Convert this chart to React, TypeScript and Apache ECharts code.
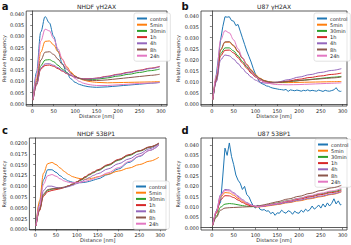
import React, { useEffect, useRef } from 'react';
import * as echarts from 'echarts';

const NAMES = ['control', '5min', '30min', '1h', '4h', '8h', '24h'];
const COLORS = ['#1f77b4', '#ff7f0e', '#2ca02c', '#d62728', '#9467bd', '#8c564b', '#e377c2'];

const X_TICKS = [0, 50, 100, 150, 200, 250, 300];
const Y_TICKS_040 = [0, 0.005, 0.01, 0.015, 0.02, 0.025, 0.03, 0.035, 0.04];
const Y_TICKS_020 = [0, 0.0025, 0.005, 0.0075, 0.01, 0.0125, 0.015, 0.0175, 0.02];

// distances for smooth curves
const X_S = [2, 10, 20, 30, 40, 50, 60, 70, 80, 90, 100, 110, 120, 130, 140, 150, 175, 200, 225, 250, 275, 297];
// distances for the noisy control curves
const X_F = [2, 5, 10, 15, 20, 25, 30, 35, 40, 45, 50, 55, 60, 65, 70, 75, 80, 85, 90, 95, 100, 105, 110, 115, 120, 125, 130, 135, 140, 145, 150, 155, 160, 165, 170, 175, 180, 185, 190, 195, 200, 205, 210, 215, 220, 225, 230, 235, 240, 245, 250, 255, 260, 265, 270, 275, 280, 285, 290, 295, 297];

// a: NHDF γH2AX
const A_control = [0.0020, 0.0140, 0.0320, 0.0388, 0.0360, 0.0300, 0.0235, 0.0180, 0.0140, 0.0112, 0.0096, 0.0087, 0.0081, 0.0077, 0.0075, 0.0074, 0.0076, 0.0080, 0.0084, 0.0088, 0.0092, 0.0096];
const A_5min = [0.0018, 0.0110, 0.0230, 0.0278, 0.0280, 0.0262, 0.0232, 0.0198, 0.0167, 0.0142, 0.0124, 0.0113, 0.0106, 0.0101, 0.0098, 0.0096, 0.0094, 0.0095, 0.0096, 0.0097, 0.0098, 0.0100];
const A_30min = [0.0018, 0.0090, 0.0170, 0.0195, 0.0197, 0.0188, 0.0172, 0.0155, 0.0140, 0.0128, 0.0119, 0.0113, 0.0110, 0.0109, 0.0109, 0.0110, 0.0116, 0.0124, 0.0132, 0.0140, 0.0148, 0.0155];
const A_1h = [0.0017, 0.0085, 0.0155, 0.0171, 0.0173, 0.0167, 0.0157, 0.0146, 0.0135, 0.0126, 0.0119, 0.0114, 0.0112, 0.0112, 0.0113, 0.0115, 0.0123, 0.0132, 0.0141, 0.0150, 0.0159, 0.0167];
const A_4h = [0.0017, 0.0088, 0.0160, 0.0178, 0.0179, 0.0172, 0.0161, 0.0149, 0.0137, 0.0127, 0.0119, 0.0114, 0.0111, 0.0111, 0.0112, 0.0114, 0.0121, 0.0130, 0.0139, 0.0148, 0.0157, 0.0165];
const A_8h = [0.0018, 0.0100, 0.0195, 0.0230, 0.0232, 0.0220, 0.0199, 0.0176, 0.0155, 0.0137, 0.0123, 0.0114, 0.0108, 0.0105, 0.0104, 0.0104, 0.0107, 0.0112, 0.0117, 0.0122, 0.0127, 0.0132];
const A_24h = [0.0019, 0.0125, 0.0280, 0.0332, 0.0325, 0.0290, 0.0245, 0.0200, 0.0162, 0.0133, 0.0113, 0.0100, 0.0092, 0.0087, 0.0084, 0.0082, 0.0082, 0.0085, 0.0088, 0.0091, 0.0093, 0.0095];

// b: U87 γH2AX
const B_control = [0.0020, 0.0060, 0.0130, 0.0210, 0.0290, 0.0350, 0.0395, 0.0393, 0.0395, 0.0378, 0.0375, 0.0355, 0.0360, 0.0330, 0.0300, 0.0270, 0.0240, 0.0215, 0.0190, 0.0160, 0.0135, 0.0115, 0.0098, 0.0092, 0.0088, 0.0082, 0.0080, 0.0075, 0.0072, 0.0070, 0.0068, 0.0066, 0.0065, 0.0063, 0.0066, 0.0057, 0.0064, 0.0062, 0.0060, 0.0063, 0.0061, 0.0058, 0.0062, 0.0060, 0.0064, 0.0059, 0.0062, 0.0060, 0.0058, 0.0063, 0.0060, 0.0057, 0.0062, 0.0059, 0.0058, 0.0061, 0.0064, 0.0074, 0.0060, 0.0057, 0.0058];
const B_5min = [0.0020, 0.0115, 0.0245, 0.0280, 0.0280, 0.0262, 0.0236, 0.0208, 0.0180, 0.0155, 0.0133, 0.0117, 0.0107, 0.0101, 0.0098, 0.0097, 0.0097, 0.0098, 0.0099, 0.0100, 0.0101, 0.0102];
const B_30min = [0.0020, 0.0110, 0.0228, 0.0254, 0.0254, 0.0240, 0.0218, 0.0193, 0.0168, 0.0146, 0.0127, 0.0113, 0.0104, 0.0099, 0.0097, 0.0097, 0.0101, 0.0106, 0.0111, 0.0116, 0.0121, 0.0125];
const B_1h = [0.0020, 0.0105, 0.0218, 0.0243, 0.0244, 0.0231, 0.0210, 0.0186, 0.0162, 0.0140, 0.0122, 0.0109, 0.0101, 0.0097, 0.0096, 0.0097, 0.0104, 0.0112, 0.0120, 0.0127, 0.0134, 0.0140];
const B_4h = [0.0020, 0.0100, 0.0200, 0.0222, 0.0218, 0.0203, 0.0183, 0.0161, 0.0140, 0.0122, 0.0108, 0.0099, 0.0095, 0.0094, 0.0096, 0.0099, 0.0110, 0.0122, 0.0133, 0.0143, 0.0152, 0.0160];
const B_8h = [0.0020, 0.0115, 0.0245, 0.0281, 0.0282, 0.0265, 0.0238, 0.0208, 0.0178, 0.0152, 0.0130, 0.0115, 0.0106, 0.0101, 0.0099, 0.0099, 0.0102, 0.0106, 0.0110, 0.0114, 0.0118, 0.0122];
const B_24h = [0.0020, 0.0130, 0.0290, 0.0332, 0.0322, 0.0290, 0.0250, 0.0210, 0.0175, 0.0147, 0.0125, 0.0110, 0.0100, 0.0094, 0.0090, 0.0088, 0.0087, 0.0088, 0.0090, 0.0092, 0.0094, 0.0096];

// c: NHDF 53BP1
const C_control = [0.0008, 0.0060, 0.0115, 0.0138, 0.0138, 0.0132, 0.0124, 0.0117, 0.0112, 0.0109, 0.0108, 0.0108, 0.0109, 0.0111, 0.0114, 0.0117, 0.0127, 0.0140, 0.0155, 0.0169, 0.0183, 0.0195];
const C_5min = [0.0008, 0.0065, 0.0130, 0.0152, 0.0155, 0.0150, 0.0142, 0.0134, 0.0127, 0.0122, 0.0119, 0.0117, 0.0116, 0.0117, 0.0119, 0.0122, 0.0128, 0.0135, 0.0142, 0.0150, 0.0158, 0.0167];
const C_30min = [0.0008, 0.0045, 0.0080, 0.0090, 0.0093, 0.0094, 0.0095, 0.0097, 0.0100, 0.0104, 0.0109, 0.0114, 0.0120, 0.0126, 0.0131, 0.0136, 0.0148, 0.0160, 0.0171, 0.0181, 0.0190, 0.0198];
const C_1h = [0.0008, 0.0043, 0.0077, 0.0087, 0.0090, 0.0092, 0.0094, 0.0097, 0.0101, 0.0105, 0.0110, 0.0116, 0.0122, 0.0128, 0.0133, 0.0138, 0.0150, 0.0162, 0.0173, 0.0182, 0.0191, 0.0199];
const C_4h = [0.0008, 0.0050, 0.0090, 0.0100, 0.0100, 0.0097, 0.0096, 0.0097, 0.0099, 0.0102, 0.0106, 0.0110, 0.0115, 0.0120, 0.0125, 0.0129, 0.0140, 0.0152, 0.0163, 0.0175, 0.0187, 0.0198];
const C_8h = [0.0008, 0.0045, 0.0082, 0.0092, 0.0094, 0.0095, 0.0096, 0.0098, 0.0101, 0.0105, 0.0110, 0.0115, 0.0121, 0.0127, 0.0132, 0.0137, 0.0149, 0.0161, 0.0172, 0.0182, 0.0191, 0.0200];
const C_24h = [0.0008, 0.0055, 0.0105, 0.0124, 0.0127, 0.0123, 0.0117, 0.0112, 0.0109, 0.0108, 0.0108, 0.0109, 0.0111, 0.0114, 0.0117, 0.0121, 0.0131, 0.0143, 0.0157, 0.0170, 0.0183, 0.0195];

// d: U87 53BP1
const D_control = [0.0015, 0.0040, 0.0080, 0.0105, 0.0125, 0.0250, 0.0385, 0.0350, 0.0410, 0.0345, 0.0305, 0.0255, 0.0230, 0.0215, 0.0185, 0.0200, 0.0160, 0.0150, 0.0125, 0.0105, 0.0095, 0.0110, 0.0090, 0.0085, 0.0088, 0.0080, 0.0082, 0.0068, 0.0075, 0.0060, 0.0072, 0.0070, 0.0085, 0.0075, 0.0070, 0.0082, 0.0078, 0.0065, 0.0080, 0.0072, 0.0070, 0.0085, 0.0075, 0.0090, 0.0080, 0.0088, 0.0105, 0.0090, 0.0098, 0.0110, 0.0095, 0.0115, 0.0100, 0.0120, 0.0105, 0.0118, 0.0140, 0.0115, 0.0130, 0.0110, 0.0112];
const D_5min = [0.0012, 0.0075, 0.0148, 0.0170, 0.0168, 0.0157, 0.0142, 0.0128, 0.0116, 0.0107, 0.0102, 0.0101, 0.0103, 0.0106, 0.0109, 0.0112, 0.0121, 0.0130, 0.0140, 0.0150, 0.0161, 0.0173];
const D_30min = [0.0012, 0.0055, 0.0100, 0.0114, 0.0117, 0.0115, 0.0111, 0.0107, 0.0104, 0.0102, 0.0102, 0.0104, 0.0108, 0.0112, 0.0116, 0.0120, 0.0131, 0.0142, 0.0153, 0.0164, 0.0174, 0.0185];
const D_1h = [0.0012, 0.0070, 0.0135, 0.0155, 0.0154, 0.0146, 0.0134, 0.0122, 0.0112, 0.0105, 0.0101, 0.0102, 0.0105, 0.0109, 0.0113, 0.0117, 0.0127, 0.0138, 0.0149, 0.0160, 0.0170, 0.0180];
const D_4h = [0.0012, 0.0080, 0.0160, 0.0185, 0.0183, 0.0170, 0.0153, 0.0136, 0.0122, 0.0111, 0.0104, 0.0103, 0.0105, 0.0108, 0.0111, 0.0114, 0.0123, 0.0133, 0.0143, 0.0153, 0.0163, 0.0175];
const D_8h = [0.0012, 0.0050, 0.0085, 0.0095, 0.0097, 0.0098, 0.0099, 0.0100, 0.0101, 0.0102, 0.0104, 0.0107, 0.0111, 0.0116, 0.0121, 0.0126, 0.0139, 0.0152, 0.0166, 0.0180, 0.0193, 0.0205];
const D_24h = [0.0012, 0.0078, 0.0155, 0.0180, 0.0178, 0.0165, 0.0148, 0.0132, 0.0119, 0.0109, 0.0103, 0.0103, 0.0106, 0.0110, 0.0114, 0.0118, 0.0130, 0.0142, 0.0155, 0.0167, 0.0178, 0.0190];

const TITLES = ['NHDF γH2AX', 'U87 γH2AX', 'NHDF 53BP1', 'U87 53BP1'];
const LETTERS = ['a', 'b', 'c', 'd'];

type Panel = {
  grid: { left: number; top: number; width: number; height: number };
  xRange: [number, number];
  yRange: [number, number];
  yTicks: number[];
  yDigits: number;
  nameGap: number;
  legend: { left: number; top: number };
  letter: [number, number];
  series: { x: number[]; y: number[]; smooth: boolean }[];
};

const PANELS: Panel[] = [
  {
    grid: { left: 26, top: 11, width: 141, height: 95 },
    xRange: [-14, 314], yRange: [-0.0009, 0.0413], yTicks: Y_TICKS_040, yDigits: 3, nameGap: 18,
    legend: { left: 134, top: 13 }, letter: [5, 6],
    series: [A_control, A_5min, A_30min, A_1h, A_4h, A_8h, A_24h].map((y) => ({ x: X_S, y, smooth: true })),
  },
  {
    grid: { left: 201, top: 11, width: 146, height: 95 },
    xRange: [-25, 310], yRange: [-0.0009, 0.0421], yTicks: Y_TICKS_040, yDigits: 3, nameGap: 18,
    legend: { left: 314, top: 13 }, letter: [185, 6],
    series: [
      { x: X_F, y: B_control, smooth: false },
      ...[B_5min, B_30min, B_1h, B_4h, B_8h, B_24h].map((y) => ({ x: X_S, y, smooth: true })),
    ],
  },
  {
    grid: { left: 26, top: 138, width: 140, height: 92 },
    xRange: [-14, 314], yRange: [-0.00016, 0.02116], yTicks: Y_TICKS_020, yDigits: 4, nameGap: 21,
    legend: { left: 133, top: 181 }, letter: [5, 130],
    series: [C_control, C_5min, C_30min, C_1h, C_4h, C_8h, C_24h].map((y) => ({ x: X_S, y, smooth: true })),
  },
  {
    grid: { left: 201, top: 138, width: 146, height: 92 },
    xRange: [-25, 310], yRange: [-0.0011, 0.0434], yTicks: Y_TICKS_040, yDigits: 3, nameGap: 18,
    legend: { left: 315, top: 139 }, letter: [185, 130],
    series: [
      { x: X_F, y: D_control, smooth: false },
      ...[D_5min, D_30min, D_1h, D_4h, D_8h, D_24h].map((y) => ({ x: X_S, y, smooth: true })),
    ],
  },
];

const FONT = 'DejaVu Sans, Liberation Sans, sans-serif';
const TXT = '#262626';

export default function App() {
  const ref = useRef<HTMLDivElement>(null);
  useEffect(() => {
    if (!ref.current) return;
    const chart = echarts.init(ref.current, undefined, { renderer: 'svg' });
    const grids: any[] = [];
    const xAxes: any[] = [];
    const yAxes: any[] = [];
    const series: any[] = [];
    const legends: any[] = [];
    const graphics: any[] = [];
    PANELS.forEach((p, pi) => {
      grids.push({ ...p.grid, show: true, borderColor: '#333', borderWidth: 0.8, backgroundColor: '#fff' });
      xAxes.push({
        type: 'value', gridIndex: pi, min: p.xRange[0], max: p.xRange[1],
        name: 'Distance [nm]', nameLocation: 'middle', nameGap: 7,
        nameTextStyle: { fontSize: 5, color: TXT, fontFamily: FONT },
        axisLine: { show: true, lineStyle: { color: '#333', width: 0.8 } },
        axisTick: { show: true, inside: false, length: 2, customValues: X_TICKS, lineStyle: { color: '#333', width: 0.6 } },
        axisLabel: { customValues: X_TICKS, fontSize: 5, color: TXT, margin: 2, fontFamily: FONT, formatter: (v: number) => String(Math.round(v)) },
        splitLine: { show: false },
      });
      yAxes.push({
        type: 'value', gridIndex: pi, min: p.yRange[0], max: p.yRange[1],
        name: 'Relative frequency', nameLocation: 'middle', nameGap: p.nameGap, nameRotate: 90,
        nameTextStyle: { fontSize: 5, color: TXT, fontFamily: FONT },
        axisLine: { show: true, lineStyle: { color: '#333', width: 0.8 } },
        axisTick: { show: true, inside: false, length: 2, customValues: p.yTicks, lineStyle: { color: '#333', width: 0.6 } },
        axisLabel: { customValues: p.yTicks, fontSize: 5, color: TXT, margin: 2, fontFamily: FONT, formatter: (v: number) => v.toFixed(p.yDigits) },
        splitLine: { show: false },
      });
      p.series.forEach((s, si) => {
        series.push({
          type: 'line', name: NAMES[si], xAxisIndex: pi, yAxisIndex: pi,
          data: s.x.map((x, i) => [x, s.y[i]]),
          showSymbol: false, symbol: 'none',
          smooth: s.smooth ? 0.35 : false, smoothMonotone: s.smooth ? 'x' : undefined,
          lineStyle: { width: 1, color: COLORS[si] }, itemStyle: { color: COLORS[si] },
          z: 10 + si,
        });
      });
      legends.push({
        left: p.legend.left, top: p.legend.top, orient: 'vertical',
        data: NAMES, itemWidth: 10, itemHeight: 2, itemGap: 1.2, icon: 'rect',
        padding: [3, 3, 3, 3], borderColor: '#d0d0d0', borderWidth: 0.6, borderRadius: 2,
        backgroundColor: 'rgba(255,255,255,0.85)',
        textStyle: { fontSize: 5, lineHeight: 5, color: TXT, fontFamily: FONT, padding: [0, 0, 0, -2] },
        selectedMode: false,
      });
      const cx = p.grid.left + p.grid.width / 2;
      graphics.push({
        type: 'text', x: cx, y: p.grid.top - 5,
        style: { text: TITLES[pi], fontSize: 6, fill: TXT, fontFamily: FONT, textAlign: 'center', textVerticalAlign: 'middle' },
      });
      graphics.push({
        type: 'text', x: p.letter[0], y: p.letter[1],
        style: { text: LETTERS[pi], fontSize: 10, fontWeight: 'bold', fill: '#111', fontFamily: FONT, textAlign: 'center', textVerticalAlign: 'middle' },
      });
    });
    chart.setOption({
      animation: false,
      backgroundColor: '#fff',
      grid: grids, xAxis: xAxes, yAxis: yAxes, series, legend: legends, graphic: graphics,
    });
    return () => chart.dispose();
  }, []);
  return <div ref={ref} style={{ position: 'absolute', left: 0, top: 0, width: 351, height: 245 }} />;
}
